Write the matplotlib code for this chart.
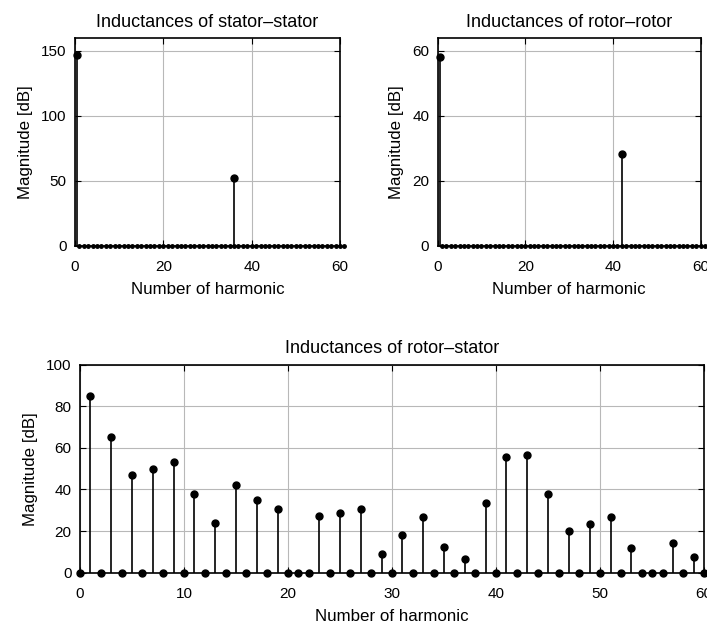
import numpy as np
import matplotlib
matplotlib.use('Agg')
import matplotlib.pyplot as plt

plt.rcParams['font.family'] = ['Liberation Sans', 'DejaVu Sans']

# stator-stator spectrum
ss_harm = [0.5, 36]
ss_mag = [147, 52.5]
ss_zero = list(range(1, 62))

# rotor-rotor spectrum
rr_harm = [0.5, 42]
rr_mag = [58, 28.4]
rr_zero = list(range(1, 62))

# rotor-stator spectrum (odd harmonics)
rs_harm = [1, 3, 5, 7, 9, 11, 13, 15, 17, 19, 23, 25, 27, 29, 31, 33, 35, 37,
           39, 41, 43, 45, 47, 49, 51, 53, 57, 59]
rs_mag = [85, 65, 47, 50, 53, 38, 24, 42, 35, 30.5, 27, 28.5, 30.5, 9, 18.3,
          26.8, 12.5, 6.5, 33.4, 55.8, 56.7, 38, 20, 23.6, 26.8, 11.7, 14.4, 7.5]
rs_zero = [0, 2, 4, 6, 8, 10, 12, 14, 16, 18, 20, 21, 22, 24, 26, 28, 30, 32,
           34, 36, 38, 40, 42, 44, 46, 48, 50, 52, 54, 55, 56, 58, 60]


def stem_plot(ax, harm, mag, zero, zsize, title, xlim, ylim, xt, yt):
    ax.vlines(harm, 0, mag, colors='k', linewidth=1.2, zorder=3)
    ax.plot(harm, mag, 'ko', markersize=5, clip_on=False, zorder=4)
    ax.plot(zero, np.zeros(len(zero)), 'ko', markersize=zsize, clip_on=False, zorder=4)
    ax.set_xlim(xlim)
    ax.set_ylim(ylim)
    ax.set_xticks(xt)
    ax.set_yticks(yt)
    ax.grid(True, color='#b8b8b8', linewidth=0.8)
    ax.set_axisbelow(True)
    ax.tick_params(direction='in', top=True, right=True, labelsize=11, length=4)
    ax.tick_params(axis='x', pad=10)
    ax.tick_params(axis='y', pad=6)
    for s in ax.spines.values():
        s.set_linewidth(1.2)
    ax.set_title(title, fontsize=13, pad=8)
    ax.set_xlabel('Number of harmonic', fontsize=12.2, labelpad=6)
    ax.set_ylabel('Magnitude [dB]', fontsize=12.2, labelpad=6)


fig = plt.figure(figsize=(7.07, 6.25), dpi=100)
ax1 = fig.add_axes([0.106, 0.6064, 0.375, 0.333])
ax2 = fig.add_axes([0.619, 0.6064, 0.372, 0.333])
ax3 = fig.add_axes([0.113, 0.0837, 0.883, 0.333])

stem_plot(ax1, ss_harm, ss_mag, ss_zero, 2.5, 'Inductances of stator\u2013stator',
          (0, 60), (0, 160), [0, 20, 40, 60], [0, 50, 100, 150])
stem_plot(ax2, rr_harm, rr_mag, rr_zero, 2.5, 'Inductances of rotor\u2013rotor',
          (0, 60), (0, 64), [0, 20, 40, 60], [0, 20, 40, 60])
stem_plot(ax3, rs_harm, rs_mag, rs_zero, 5, 'Inductances of rotor\u2013stator',
          (0, 60), (0, 100), list(range(0, 61, 10)), list(range(0, 101, 20)))

fig.savefig('out.png', dpi=100)
